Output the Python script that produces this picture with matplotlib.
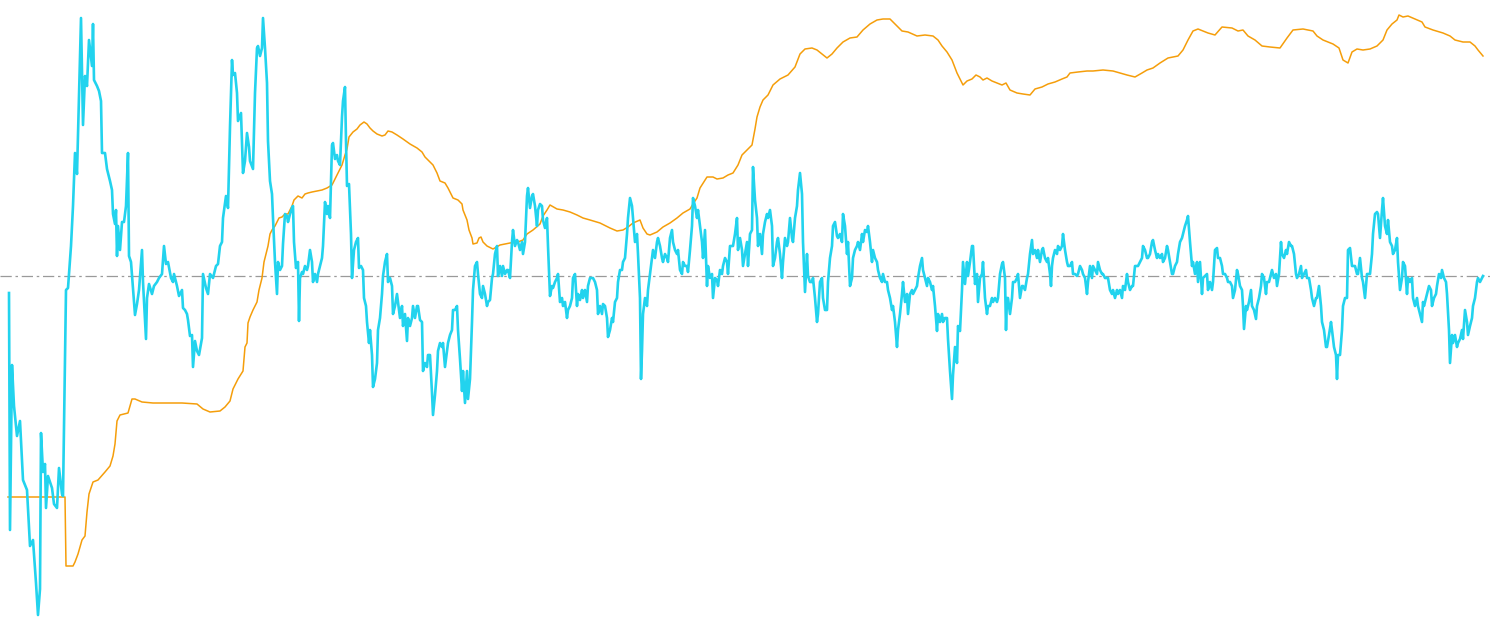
import numpy as np
import matplotlib
matplotlib.use("Agg")
import matplotlib.pyplot as plt

# oscillator (cyan) - bar index and value
osc_bar = [
    9, 10, 12, 14, 17, 20, 23, 27, 30, 33, 36, 38, 40, 41, 43, 45, 46, 48, 52, 54,
    57, 59, 62, 63, 66, 68, 71, 73, 75, 77, 79, 81, 83, 85, 87, 89, 92, 93, 94, 97,
    99, 101, 102, 105, 107, 110, 112, 113, 115, 116, 117, 118, 120, 122, 124, 126, 128, 129, 131, 133,
    135, 137, 139, 142, 143, 146, 147, 149, 152, 154, 157, 159, 162, 164, 166, 168, 171, 173, 174, 177,
    179, 182, 183, 185, 187, 188, 190, 192, 193, 195, 197, 199, 202, 203, 206, 208, 210, 213, 216, 218,
    220, 222, 223, 226, 228, 230, 232, 233, 235, 237, 238, 241, 243, 245, 247, 249,
    250, 253, 255, 257, 258, 260, 262, 263, 265, 267, 268, 270, 272, 273, 275, 277, 278, 280, 282, 283,
    285, 287, 288, 290, 292, 293, 294, 296, 298, 299, 300, 302, 303, 305, 307, 308, 310, 312, 313, 315,
    317, 318, 320, 322, 323, 325, 327, 328, 330, 332, 333, 335, 337, 338, 340, 342, 343, 345, 346, 347,
    349, 351, 352, 354, 356, 358, 359, 361, 363, 364, 366, 367, 369, 370, 372, 373, 375, 377, 378, 380,
    382, 383, 385, 387, 388, 390, 392, 393, 395, 397, 398, 400, 402, 403, 405, 407, 408, 410, 412, 413,
    415, 417, 418, 420, 422, 423, 425, 427, 428, 430, 432, 433, 435, 437, 438, 440, 442, 443, 445, 447,
    448, 450, 452, 453, 455, 457, 458, 460, 462, 463, 465, 467, 468, 470, 472, 473, 475, 477, 478, 480,
    482, 483, 485, 487, 488, 490, 492, 493, 495, 497, 498, 500, 502, 503, 505, 507, 508, 510, 512, 513,
    515, 517, 518, 520, 522, 523, 525, 527, 528, 530, 532, 533, 535, 537, 538, 540, 542, 543, 545, 547,
    548, 550, 552, 553, 555, 557, 558, 560, 562, 563, 565, 567, 568, 570, 572, 573, 575, 577, 578, 580,
    582, 583, 585, 587, 588, 590, 592, 593, 595, 597, 598, 600, 602, 603, 605, 607, 608, 610, 612, 613,
    615, 617, 618, 620, 622, 623, 625, 627, 628, 630, 632, 633, 635, 637, 638, 640, 641, 642, 643, 645,
    647, 648, 650, 652, 653, 655, 657, 658, 660, 662, 663, 665, 667, 668, 670, 672, 673, 675, 677, 678,
    680, 682, 683, 685, 687, 688, 690, 692, 693, 695, 697, 698, 700, 702, 703, 705, 707, 708, 710, 712,
    713, 715, 717, 718, 720, 722, 723, 725, 727, 728, 730, 732, 733, 735, 737, 738, 740, 742, 743, 745,
    747, 748, 750, 752, 753, 755, 757, 758, 760, 762, 763, 765, 767, 768, 770, 772, 773, 775, 777, 778,
    780, 782, 783, 785, 787, 788, 790, 792, 793, 795, 797, 798, 800, 802, 803, 805, 807, 808, 810, 812,
    813, 815, 817, 818, 820, 822, 823, 825, 827, 828, 830, 832, 833, 835, 837, 838, 840, 842, 843, 845,
    847, 848, 850, 852, 853, 855, 857, 858, 860, 862, 863, 865, 867, 868, 870, 872, 873, 875, 877, 878,
    880, 882, 883, 885, 887, 888, 890, 892, 893, 895, 897, 898, 900, 902, 903, 905, 907, 908, 910, 912,
    913, 915, 917, 918, 920, 922, 923, 925, 927, 928, 930, 932, 933, 935, 937, 938, 940, 942, 943, 945,
    947, 948, 950, 952, 953, 955, 957, 958, 960, 962, 963, 965, 967, 968, 970, 972, 973, 975, 977, 978,
    980, 982, 983, 985, 987, 988, 990, 992, 993, 995, 997, 998, 1000, 1002, 1003, 1005, 1006, 1007, 1008, 1010,
    1012, 1013, 1015, 1017, 1018, 1020, 1022, 1023, 1025, 1027, 1028, 1030, 1032, 1033, 1035, 1037, 1038, 1040, 1042, 1043,
    1045, 1047, 1048, 1050, 1051, 1052, 1053, 1055, 1057, 1058, 1060, 1062, 1063, 1065, 1067, 1068, 1070, 1072, 1073, 1075,
    1077, 1078, 1080, 1082, 1083, 1085, 1087, 1088, 1090, 1092, 1093, 1095, 1097, 1098, 1100, 1102, 1103, 1105, 1107, 1108,
    1110, 1112, 1113, 1115, 1117, 1118, 1120, 1122, 1123, 1125, 1127, 1128, 1130, 1132, 1133, 1135, 1137, 1138, 1140, 1142,
    1143, 1145, 1147, 1148, 1150, 1152, 1153, 1155, 1157, 1158, 1160, 1162, 1163, 1165, 1167, 1168, 1170, 1172, 1173, 1175,
    1177, 1178, 1180, 1182, 1183, 1185, 1187, 1188, 1190, 1192, 1193, 1195, 1197, 1198, 1200, 1202, 1203, 1207, 1208, 1210,
    1212, 1213, 1215, 1217, 1218, 1220, 1222, 1223, 1225, 1227, 1228, 1230, 1232, 1233, 1235, 1237, 1238, 1240, 1242, 1243,
    1244, 1246, 1247, 1249, 1251, 1252, 1254, 1256, 1257, 1259, 1261, 1262, 1264, 1266, 1267, 1269, 1271, 1272, 1274, 1276,
    1277, 1279, 1281, 1282, 1284, 1286, 1287, 1289, 1291, 1292, 1294, 1296, 1297, 1299, 1301, 1302, 1304, 1306, 1307, 1309,
    1311, 1312, 1314, 1316, 1317, 1319, 1321, 1322, 1324, 1326, 1327, 1329, 1331, 1332, 1334, 1336, 1337, 1338, 1340, 1342,
    1343, 1345, 1347, 1348, 1350, 1352, 1353, 1355, 1357, 1358, 1360, 1362, 1363, 1365, 1367, 1368, 1370, 1372, 1373, 1375,
    1377, 1378, 1380, 1382, 1383, 1385, 1387, 1388, 1390, 1392, 1393, 1395, 1397, 1398, 1400, 1402, 1403, 1405, 1407, 1408,
    1410, 1412, 1413, 1415, 1417, 1418, 1420, 1422, 1423, 1424, 1426, 1427, 1429, 1431, 1432, 1434, 1436, 1437, 1439, 1441,
    1442, 1444, 1446, 1447, 1449, 1450, 1452, 1453, 1455, 1457, 1458, 1460, 1462, 1463, 1465, 1467, 1468, 1470, 1472, 1473,
    1475, 1477, 1478, 1480, 1482, 1483,
]
osc_val = [
    -17, -254, -89, -130, -160, -145, -204, -214, -270, -264, -307, -339, -313, -157, -196, -188, -232, -200, -212, -228,
    -232, -192, -218, -220, -14, -12, 30, 70, 123, 102, 180, 258, 151, 200, 190, 236, 210, 252, 196, 190,
    185, 175, 123, 123, 107, 95, 86, 62, 52, 66, 20, 50, 26, 54, 54, 70, 123, 20, 14, -12,
    -39, -28, -14, 26, -6, -63, -22, -8, -18, -10, -6, -2, 2, 30, 12, 14, -2, -6, 2, -10,
    -20, -14, -32, -34, -38, -44, -60, -59, -91, -65, -75, -79, -62, 2, -12, -18, 2, -2, 10, 12,
    30, 34, 58, 80, 68, 149, 216, 201, 203, 183, 155, 163, 103, 115, 143, 129,
    115, 107, 183, 228, 230, 220, 228, 258, 228, 193, 135, 95, 82, 58, 14, -18, 14, 6, 10, 32,
    62, 60, 54, 62, 68, 70, 34, 8, 14, -45, -2, 4, 2, 10, 6, 10, 26, 14, -6, 2,
    -6, 2, 10, 18, 30, 74, 62, 70, 58, 131, 133, 117, 121, 115, 111, 159, 175, 189, 135, 90,
    92, 42, -2, 26, 34, 38, 8, 10, 6, -22, -30, -46, -67, -54, -79, -111, -103, -87, -54, -42,
    -18, 0, 14, 22, -6, -2, -10, -38, -30, -18, -26, -42, -30, -50, -38, -65, -42, -50, -42, -30,
    -42, -30, -30, -44, -46, -95, -87, -91, -79, -79, -117, -139, -119, -95, -75, -67, -71, -67, -91, -75,
    -67, -59, -54, -34, -34, -30, -54, -83, -115, -95, -127, -95, -123, -103, -46, -14, 10, 14, 2, -18,
    -22, -10, -18, -30, -26, -24, -2, 2, 22, 30, 0, 10, 0, 10, 2, 6, 6, -2, 34, 46,
    30, 36, 34, 26, 34, 22, 34, 80, 88, 68, 80, 82, 70, 50, 66, 72, 70, 56, 48, 58,
    30, -20, -10, -12, -6, -2, 2, -26, -22, -30, -26, -42, -34, -30, -22, -2, 2, -30, -18, -24,
    -14, -22, -14, -26, -10, -2, -2, -2, -6, -14, -38, -30, -38, -28, -30, -42, -61, -54, -42, -46,
    -26, -22, -6, 6, 6, 14, 18, 42, 58, 78, 70, 58, 34, 42, 22, -22, -103, -75, -38, -22,
    -30, -14, 2, 18, 26, 18, 34, 38, 30, 18, 14, 22, 18, 14, 38, 46, 34, 26, 22, 26,
    6, 2, 14, 10, 10, 4, 26, 50, 78, 70, 58, 66, 50, 34, 18, 46, -10, 10, -2, 2,
    -22, -2, -4, -10, 6, 2, 10, 18, 14, 2, 30, 30, 30, 42, 58, 26, 38, 26, 10, 22,
    34, 10, 42, 46, 109, 76, 58, 30, 42, 22, 42, 54, 62, 58, 66, 50, 10, 18, 34, 38,
    22, -2, 14, 38, 30, 34, 58, 38, 34, 58, 70, 86, 103, 82, 34, -16, 22, 0, -6, -6,
    -2, -22, -46, -38, -6, -2, -22, -34, -34, -6, 18, 30, 50, 54, 40, 38, 42, 34, 62, 50,
    22, 34, -10, -2, 18, 26, 30, 34, 26, 42, 34, 46, 44, 50, 34, 14, 26, 18, 14, 6,
    -2, -6, 2, -6, -6, -14, -22, -34, -30, -46, -71, -54, -38, -18, -6, -26, -18, -38, -18, -14,
    -18, -14, -10, -2, 10, 18, 6, -2, -10, -2, -6, -14, -10, -30, -55, -38, -46, -38, -46, -42,
    -42, -63, -95, -123, -99, -71, -87, -50, -55, -14, 14, -8, 14, 0, 14, 30, 30, -8, 2, -26,
    -2, 2, 14, -22, -38, -30, -30, -22, -26, -22, -26, -22, 2, 12, 14, -2, -54, -22, -22, -38,
    -22, -6, -6, -2, 2, -22, -10, -10, -14, -2, 2, 22, 36, 22, 26, 18, 26, 14, 26, 28,
    18, 14, 18, 2, -10, 10, 18, 26, 22, 30, 26, 30, 42, 26, 14, 10, 10, 14, 2, 2,
    0, 2, 10, 6, 2, -2, -18, -6, 10, -2, 10, 6, 2, 14, 6, 2, 2, -2, -2, -2,
    -14, -18, -14, -22, -14, -18, -14, -22, -10, -14, 2, -6, -14, -10, -10, 10, 10, 10, 14, 18,
    30, 26, 18, 18, 22, 34, 36, 26, 18, 22, 18, 22, 14, 18, 30, 26, 14, 2, 2, 10,
    14, 22, 34, 38, 42, 50, 56, 60, 34, 10, 14, 2, 14, -6, 14, -18, -2, 2, -14, -6,
    -14, -6, 26, 28, 18, 18, 10, 2, 2, -2, -6, -6, -10, -22, -14, 6, 2, -10, -14, -30,
    -53, -30, -34, -26, -14, -30, -34, -43, -30, -22, -10, 2, -2, -18, -6, -6, 2, 6, -2, 2,
    -10, 2, 34, 22, 18, 26, 22, 34, 30, 30, 22, 2, -2, 2, 10, -2, 2, 6, -2, -2,
    -14, -22, -30, -22, -22, -10, -30, -46, -54, -71, -71, -59, -46, -54, -71, -79, -103, -79, -79, -54,
    -30, -22, -22, 26, 28, 10, 10, 10, 2, 2, 18, -2, -6, -22, 2, 2, 2, 22, 42, 62,
    64, 62, 38, 66, 78, 50, 42, 56, 34, 30, 22, 26, 38, 14, -14, -2, 14, 10, -18, -2,
    -6, -2, -22, -30, -22, -30, -38, -46, -26, -30, -22, -18, -10, -14, -30, -22, -18, -10, 2, -2,
    6, -2, -6, -18, -54, -87, -59, -67, -59, -71, -67, -63, -54, -63, -34, -46, -59, -50, -42, -30,
    -22, -6, -2, -6, -2, 0,
]

# trend line (orange) - bar index and value
trend_bar = [
    8, 65, 66, 73, 75, 78, 82, 85, 87, 89, 93, 98, 105, 110, 113, 115, 117, 120, 128, 132,
    135, 142, 153, 167, 182, 197, 203, 210, 220, 225, 230, 233, 238, 243, 245, 247, 248, 250, 253, 257,
    259, 262, 264, 266, 268, 270, 272, 275, 277, 279, 282, 285, 288, 292, 294, 298, 302, 305, 308, 312,
    317, 322, 327, 332, 335, 338, 342, 345, 347, 349, 353, 357, 360, 364, 367, 370, 373, 377, 382, 385,
    388, 392, 397, 403, 410, 417, 422, 425, 428, 433, 437, 440, 445, 448, 453, 458, 462, 463, 467, 469,
    472, 473, 477, 479, 481, 483, 487, 493, 500, 510, 518, 523, 527, 533, 540, 543, 547, 550, 557, 563,
    570, 577, 583, 590, 600, 610, 617, 623, 628, 633, 640, 643, 647, 650, 657, 663, 670, 677, 683, 690,
    693, 697, 700, 707, 713, 717, 723, 728, 733, 738, 742, 747, 752, 755, 757, 760, 763, 768, 773, 780,
    788, 795, 800, 805, 812, 817, 822, 827, 832, 837, 843, 850, 857, 863, 870, 877, 883, 890, 897, 902,
    908, 917, 925, 933, 938, 942, 947, 952, 957, 960, 963, 967, 972, 976, 980, 983, 987, 992, 997, 1002,
    1006, 1010, 1017, 1023, 1030, 1035, 1042, 1048, 1055, 1062, 1067, 1070, 1078, 1087, 1093, 1103, 1113, 1120, 1127, 1135,
    1142, 1147, 1153, 1160, 1168, 1178, 1183, 1188, 1193, 1198, 1203, 1208, 1215, 1222, 1232, 1238, 1243, 1248, 1255, 1262,
    1270, 1280, 1287, 1293, 1303, 1313, 1317, 1323, 1333, 1339, 1343, 1348, 1352, 1357, 1363, 1370, 1377, 1383, 1387, 1392,
    1397, 1399, 1403, 1408, 1415, 1422, 1425, 1433, 1443, 1450, 1455, 1463, 1470, 1475, 1478, 1483,
]
trend_val = [
    -221, -221, -290, -290, -286, -278, -264, -260, -236, -218, -206, -204, -196, -190, -180, -168, -145, -139, -137, -123,
    -123, -126, -127, -127, -127, -128, -133, -136, -135, -131, -125, -113, -103, -95, -71, -67, -47, -41, -34, -26,
    -14, -2, 14, 22, 30, 42, 46, 50, 54, 58, 59, 62, 62, 70, 76, 80, 78, 82, 83, 84,
    85, 86, 88, 91, 97, 103, 111, 121, 127, 139, 144, 147, 151, 154, 152, 148, 145, 142, 140, 141,
    145, 144, 141, 137, 132, 128, 124, 119, 116, 111, 103, 95, 93, 88, 78, 76, 72, 66, 56, 46,
    38, 32, 33, 38, 39, 34, 30, 27, 31, 33, 34, 36, 42, 46, 52, 60, 66, 71, 67, 66,
    64, 61, 58, 56, 53, 48, 45, 46, 49, 53, 56, 48, 42, 41, 44, 49, 53, 58, 63, 67,
    72, 78, 88, 99, 99, 97, 98, 101, 103, 111, 121, 126, 131, 147, 159, 169, 176, 181, 191, 197,
    201, 209, 222, 227, 228, 226, 222, 218, 222, 228, 234, 238, 239, 246, 252, 256, 257, 257, 250, 245,
    244, 240, 241, 240, 236, 230, 224, 216, 203, 197, 191, 195, 197, 201, 199, 196, 198, 195, 193, 191,
    193, 186, 183, 182, 181, 187, 189, 192, 194, 197, 199, 203, 204, 205, 205, 206, 205, 203, 201, 199,
    203, 206, 208, 213, 218, 220, 226, 236, 245, 247, 245, 243, 241, 249, 248, 245, 246, 240, 236, 230,
    229, 228, 238, 246, 247, 245, 240, 236, 232, 228, 216, 213, 224, 227, 226, 227, 230, 236, 246, 252,
    256, 261, 259, 260, 257, 254, 249, 246, 243, 240, 236, 234, 234, 230, 226, 220,
]
assert len(osc_bar) == len(osc_val)
assert len(trend_bar) == len(trend_val)

fig = plt.figure(figsize=(14.9, 6.33), dpi=100)
ax = fig.add_axes([0, 0, 1, 1])

ax.axhline(0, color="#9a9a9a", lw=0.9, dashes=(9, 3, 2, 3), zorder=1)
ax.plot(trend_bar, trend_val, color="#f59e0b", lw=1.1, zorder=2)
ax.plot(osc_bar, osc_val, color="#22d3ee", lw=1.9, zorder=3)

ax.set_xlim(0, 1490)
ax.set_ylim(-357, 276)
ax.axis("off")

fig.savefig("out.png", dpi=100, facecolor="white")
